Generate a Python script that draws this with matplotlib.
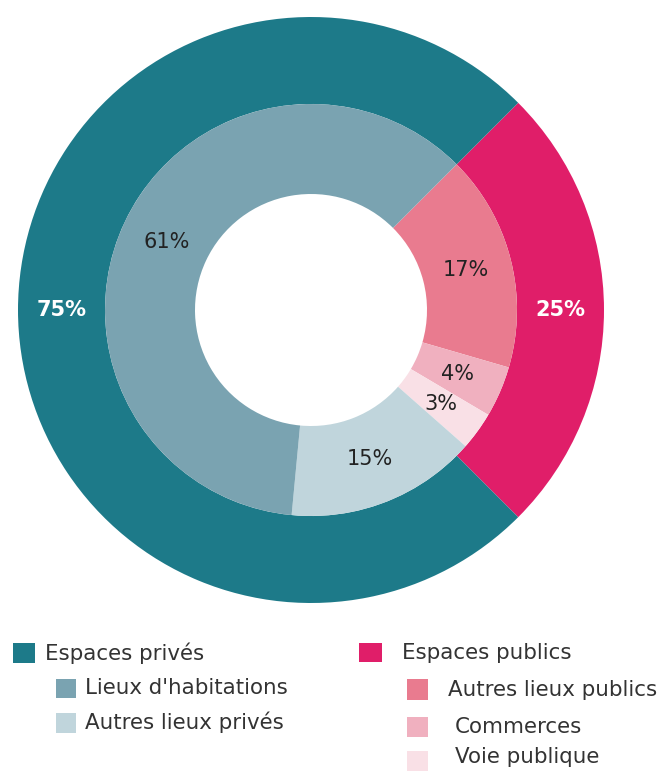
import matplotlib
matplotlib.use("Agg")
import matplotlib.pyplot as plt
from matplotlib.patches import Rectangle

# ---- data ----
outer_labels = ["Espaces publics", "Espaces privés"]
outer_values = [25, 75]
inner_labels = ["Autres lieux publics", "Commerces", "Voie publique",
                "Autres lieux privés", "Lieux d'habitations"]
inner_values = [17, 4, 3, 15, 61]

outer_colors = ["#e01e69", "#1d7a89"]
inner_colors = ["#e97b8f", "#f0b0bf", "#f9e0e6", "#c0d5dc", "#7aa3b1"]

W, H = 659, 772
fig = plt.figure(figsize=(W / 100, H / 100), dpi=100)
ax = fig.add_axes([0, 0, 1, 1])

cx, cy = 311, H - 310
R_out, R_mid, R_in = 293, 206, 116

w1, t1, a1 = ax.pie(outer_values, radius=R_out, center=(cx, cy), startangle=45,
                    counterclock=False, colors=outer_colors,
                    wedgeprops=dict(width=R_out - R_mid, edgecolor="none", linewidth=0),
                    autopct=lambda p: f"{p:.0f}%", pctdistance=249.5 / R_out,
                    textprops=dict(color="white", fontsize=15, fontweight="bold"))
w2, t2, a2 = ax.pie(inner_values, radius=R_mid, center=(cx, cy), startangle=45,
                    counterclock=False, colors=inner_colors,
                    wedgeprops=dict(width=R_mid - R_in, edgecolor="none", linewidth=0),
                    autopct=lambda p: f"{p:.0f}%", pctdistance=160 / R_mid,
                    textprops=dict(color="#222222", fontsize=15))

ax.set_xlim(0, W)
ax.set_ylim(0, H)
ax.set_aspect("equal")
ax.axis("off")

# ---- legend (pixel layout) ----
def item(x_sq, y_top, size_w, size_h, x_txt, y_c, color, label):
    ax.add_patch(Rectangle((x_sq, H - y_top - size_h), size_w, size_h,
                           facecolor=color, edgecolor="none", clip_on=False))
    ax.text(x_txt, H - y_c, label, ha="left", va="center", fontsize=15.4,
            color="#333333", clip_on=False)

item(13, 643, 22, 20, 45, 653, outer_colors[1], outer_labels[1])
item(56, 679, 20, 19, 85, 688, inner_colors[4], inner_labels[4])
item(56, 713, 20, 20, 85, 722, inner_colors[3], inner_labels[3])
item(359, 643, 23, 19, 402, 653, outer_colors[0], outer_labels[0])
item(407, 679, 21, 21, 448, 690, inner_colors[0], inner_labels[0])
item(407, 717, 21, 20, 455, 727, inner_colors[1], inner_labels[1])
item(407, 751, 21, 20, 455, 757, inner_colors[2], inner_labels[2])

fig.savefig("out.png", dpi=100)
